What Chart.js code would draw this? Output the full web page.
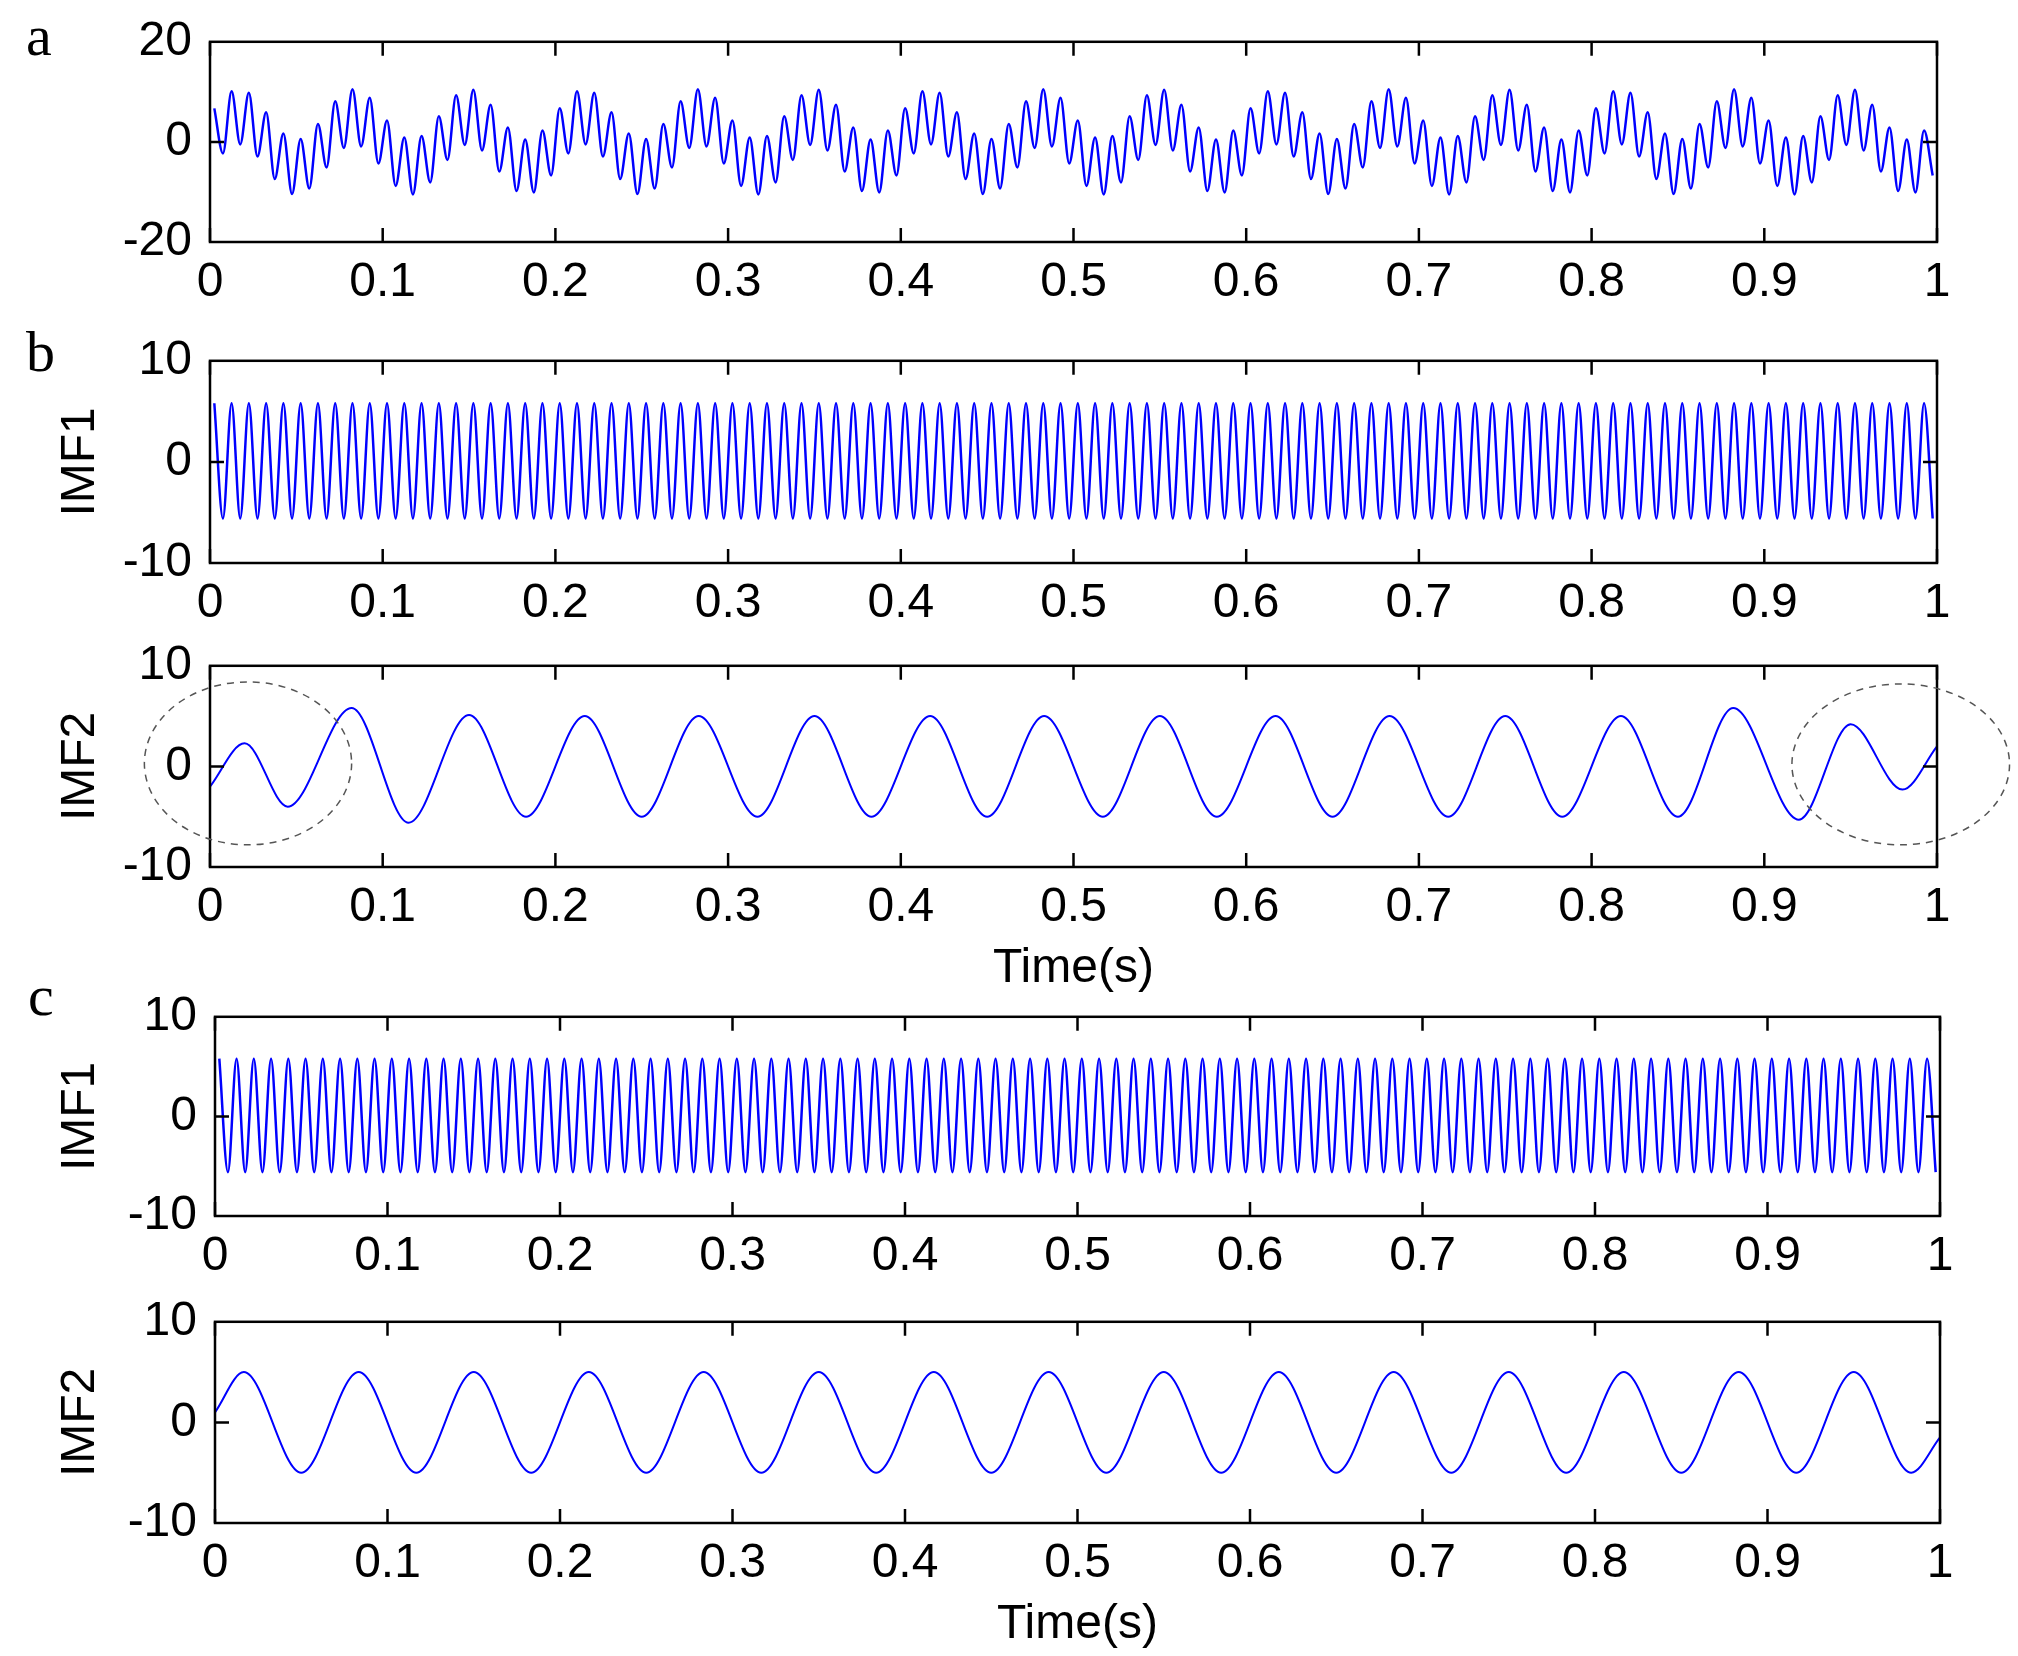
<!DOCTYPE html>
<html>
<head>
<meta charset="utf-8">
<script src="https://cdn.jsdelivr.net/npm/chart.js@4"></script>
<style>
  body { margin: 0; background: #fff; width: 2018px; height: 1656px; position: relative; overflow: hidden; }
  canvas { position: absolute; left: 0; }
  .lbl { position: absolute; font-family: "Liberation Serif", serif; font-size: 58px; color: #000; }
</style>
</head>
<body>
<div class="lbl" style="left:26px;top:2px">a</div>
<div class="lbl" style="left:26px;top:318px">b</div>
<div class="lbl" style="left:28px;top:962px">c</div>
<canvas id="pa" width="2018" height="309" style="top:3px"></canvas>
<canvas id="pb1" width="2018" height="311" style="top:322px"></canvas>
<canvas id="pb2" width="2018" height="375" style="top:627px"></canvas>
<canvas id="pc1" width="2018" height="308" style="top:978px"></canvas>
<canvas id="pc2" width="2018" height="375" style="top:1283px"></canvas>
<script>
// sample grid for the fast signals: one value per half cycle of IMF1
const sampleStart = 0.0025;
const sampleStep = 0.005;

// original signal (panel a), read at each local extremum
const signalA = [
  6.7,-2.3,10.1,-0.5,9.8,-2.9,5.9,-7.4,1.7,-10.4,0.6,-9.3,3.6,-5.1,8.1,-1.2,10.5,-0.9,8.8,-4.3,
  4.3,-8.8,0.9,-10.5,1.2,-8.1,5.1,-3.6,9.3,-0.6,10.4,-1.7,7.4,-5.9,2.9,-9.8,0.5,-10.1,2.3,-6.7,
  6.7,-2.3,10.1,-0.5,9.8,-2.9,5.9,-7.4,1.7,-10.4,0.6,-9.3,3.6,-5.1,8.1,-1.2,10.5,-0.9,8.8,-4.3,
  4.3,-8.8,0.9,-10.5,1.2,-8.1,5.1,-3.6,9.3,-0.6,10.4,-1.7,7.4,-5.9,2.9,-9.8,0.5,-10.1,2.3,-6.7,
  6.7,-2.3,10.1,-0.5,9.8,-2.9,5.9,-7.4,1.7,-10.4,0.6,-9.3,3.6,-5.1,8.1,-1.2,10.5,-0.9,8.8,-4.3,
  4.3,-8.8,0.9,-10.5,1.2,-8.1,5.1,-3.6,9.3,-0.6,10.4,-1.7,7.4,-5.9,2.9,-9.8,0.5,-10.1,2.3,-6.7,
  6.7,-2.3,10.1,-0.5,9.8,-2.9,5.9,-7.4,1.7,-10.4,0.6,-9.3,3.6,-5.1,8.1,-1.2,10.5,-0.9,8.8,-4.3,
  4.3,-8.8,0.9,-10.5,1.2,-8.1,5.1,-3.6,9.3,-0.6,10.4,-1.7,7.4,-5.9,2.9,-9.8,0.5,-10.1,2.3,-6.7,
  6.7,-2.3,10.1,-0.5,9.8,-2.9,5.9,-7.4,1.7,-10.4,0.6,-9.3,3.6,-5.1,8.1,-1.2,10.5,-0.9,8.8,-4.3,
  4.3,-8.8,0.9,-10.5,1.2,-8.1,5.1,-3.6,9.3,-0.6,10.4,-1.7,7.4,-5.9,2.9,-9.8,0.5,-10.1,2.3,-6.7
];

// IMF1 (same in b and c)
const imf1 = [
  5.8,-5.6,5.8,-5.6,5.8,-5.6,5.8,-5.6,5.8,-5.6,5.8,-5.6,5.8,-5.6,5.8,-5.6,5.8,-5.6,5.8,-5.6,
  5.8,-5.6,5.8,-5.6,5.8,-5.6,5.8,-5.6,5.8,-5.6,5.8,-5.6,5.8,-5.6,5.8,-5.6,5.8,-5.6,5.8,-5.6,
  5.8,-5.6,5.8,-5.6,5.8,-5.6,5.8,-5.6,5.8,-5.6,5.8,-5.6,5.8,-5.6,5.8,-5.6,5.8,-5.6,5.8,-5.6,
  5.8,-5.6,5.8,-5.6,5.8,-5.6,5.8,-5.6,5.8,-5.6,5.8,-5.6,5.8,-5.6,5.8,-5.6,5.8,-5.6,5.8,-5.6,
  5.8,-5.6,5.8,-5.6,5.8,-5.6,5.8,-5.6,5.8,-5.6,5.8,-5.6,5.8,-5.6,5.8,-5.6,5.8,-5.6,5.8,-5.6,
  5.8,-5.6,5.8,-5.6,5.8,-5.6,5.8,-5.6,5.8,-5.6,5.8,-5.6,5.8,-5.6,5.8,-5.6,5.8,-5.6,5.8,-5.6,
  5.8,-5.6,5.8,-5.6,5.8,-5.6,5.8,-5.6,5.8,-5.6,5.8,-5.6,5.8,-5.6,5.8,-5.6,5.8,-5.6,5.8,-5.6,
  5.8,-5.6,5.8,-5.6,5.8,-5.6,5.8,-5.6,5.8,-5.6,5.8,-5.6,5.8,-5.6,5.8,-5.6,5.8,-5.6,5.8,-5.6,
  5.8,-5.6,5.8,-5.6,5.8,-5.6,5.8,-5.6,5.8,-5.6,5.8,-5.6,5.8,-5.6,5.8,-5.6,5.8,-5.6,5.8,-5.6,
  5.8,-5.6,5.8,-5.6,5.8,-5.6,5.8,-5.6,5.8,-5.6,5.8,-5.6,5.8,-5.6,5.8,-5.6,5.8,-5.6,5.8,-5.6
];

// IMF2 of panel b (with end effects), extrema
const imf2bTimes  = [0, 0.02, 0.045, 0.082, 0.115, 0.15, 0.183, 0.217, 0.25, 0.283, 0.317, 0.35, 0.383, 0.417, 0.45, 0.483,
  0.517, 0.55, 0.583, 0.617, 0.65, 0.683, 0.717, 0.75, 0.783, 0.817, 0.85, 0.882, 0.92, 0.95, 0.98, 1];
const imf2bValues = [-2, 2.3, -4, 5.8, -5.6, 5.1, -5, 5, -5, 5, -5, 5, -5, 5, -5, 5,
  -5, 5, -5, 5, -5, 5, -5, 5, -5, 5, -5, 5.8, -5.3, 4.2, -2.3, 2];

// IMF2 of panel c, extrema
const imf2cTimes  = [0, 0.0167, 0.05, 0.0833, 0.1167, 0.15, 0.1833, 0.2167, 0.25, 0.2833, 0.3167, 0.35, 0.3833, 0.4167, 0.45, 0.4833,
  0.5167, 0.55, 0.5833, 0.6167, 0.65, 0.6833, 0.7167, 0.75, 0.7833, 0.8167, 0.85, 0.8833, 0.9167, 0.95, 0.9833, 1];
const imf2cValues = [1, 5, -5, 5, -5, 5, -5, 5, -5, 5, -5, 5, -5, 5, -5, 5,
  -5, 5, -5, 5, -5, 5, -5, 5, -5, 5, -5, 5, -5, 5, -5, -1.5];

const xTicks = [0, 0.1, 0.2, 0.3, 0.4, 0.5, 0.6, 0.7, 0.8, 0.9, 1];

const gridTimes = imf1.map((_, i) => sampleStart + sampleStep * i);
const pts = (xs, ys) => ys.map((y, i) => ({ x: xs[i], y }));

const FONT = 'Liberation Sans, Arial, sans-serif';

const framePlugin = {
  id: 'frame',
  afterDraw(chart, args, opts) {
    const { ctx, chartArea: a, scales } = chart;
    ctx.save();
    ctx.strokeStyle = '#000';
    ctx.lineWidth = 2.5;
    ctx.strokeRect(a.left, a.top, a.right - a.left, a.bottom - a.top);
    ctx.beginPath();
    xTicks.forEach(v => {
      const px = scales.x.getPixelForValue(v);
      ctx.moveTo(px, a.bottom); ctx.lineTo(px, a.bottom - 14);
      ctx.moveTo(px, a.top); ctx.lineTo(px, a.top + 14);
    });
    const py = scales.y.getPixelForValue(0);
    ctx.moveTo(a.left, py); ctx.lineTo(a.left + 14, py);
    ctx.moveTo(a.right, py); ctx.lineTo(a.right - 14, py);
    ctx.stroke();
    (opts.ellipses || []).forEach(e => {
      const cx = scales.x.getPixelForValue(e.x);
      const cy = scales.y.getPixelForValue(e.y);
      const rx = Math.abs(scales.x.getPixelForValue(e.x + e.rx) - cx);
      const ry = Math.abs(scales.y.getPixelForValue(e.y + e.ry) - cy);
      ctx.beginPath();
      ctx.setLineDash([7, 6]);
      ctx.lineWidth = 1.5;
      ctx.strokeStyle = '#555';
      ctx.ellipse(cx, cy, rx, ry, 0, 0, Math.PI * 2);
      ctx.stroke();
    });
    ctx.restore();
  }
};

function makePanel(id, data, opt) {
  new Chart(document.getElementById(id), {
    type: 'line',
    data: { datasets: [{ data, borderColor: '#0000ff', borderWidth: opt.lw, pointRadius: 0,
      cubicInterpolationMode: 'monotone', fill: false }] },
    plugins: [framePlugin],
    options: {
      responsive: false, animation: false, devicePixelRatio: 1,
      layout: { padding: { top: 20, right: opt.right, left: 0, bottom: 0 } },
      plugins: { legend: { display: false }, tooltip: { enabled: false },
        frame: { ellipses: opt.ellipses || [] } },
      scales: {
        x: {
          type: 'linear', min: 0, max: 1,
          grid: { display: false }, border: { display: false },
          afterBuildTicks: s => { s.ticks = xTicks.map(v => ({ value: v })); },
          afterFit: s => { s.height = opt.title ? 135 : 70; },
          ticks: { font: { family: FONT, size: 48 }, color: '#000', padding: 4, maxRotation: 0,
            callback: v => String(+v.toFixed(1)) },
          title: { display: !!opt.title, text: 'Time(s)', font: { family: FONT, size: 48 }, color: '#000', padding: { top: 0 } }
        },
        y: {
          min: -opt.ymax, max: opt.ymax,
          grid: { display: false }, border: { display: false },
          afterBuildTicks: s => { s.ticks = [-opt.ymax, 0, opt.ymax].map(v => ({ value: v })); },
          afterFit: s => { s.width = opt.left; },
          ticks: { font: { family: FONT, size: 48 }, color: '#000', padding: 10 },
          title: { display: !!opt.ytitle, text: opt.ytitle, font: { family: FONT, size: 48 }, color: '#000', padding: { top: 52 } }
        }
      }
    }
  });
}

makePanel('pa', pts(gridTimes, signalA), { ymax: 20, left: 210, right: 81, lw: 2.5 });
makePanel('pb1', pts(gridTimes, imf1), { ymax: 10, left: 210, right: 81, lw: 2.5, ytitle: 'IMF1' });
makePanel('pb2', pts(imf2bTimes, imf2bValues), { ymax: 10, left: 210, right: 81, lw: 2, ytitle: 'IMF2', title: true,
  ellipses: [{ x: 0.022, y: 0.3, rx: 0.06, ry: 8.1 }, { x: 0.979, y: 0.2, rx: 0.063, ry: 8.0 }] });
makePanel('pc1', pts(gridTimes, imf1), { ymax: 10, left: 215, right: 78, lw: 2.5, ytitle: 'IMF1' });
makePanel('pc2', pts(imf2cTimes, imf2cValues), { ymax: 10, left: 215, right: 78, lw: 2, ytitle: 'IMF2', title: true });
</script>
</body>
</html>
